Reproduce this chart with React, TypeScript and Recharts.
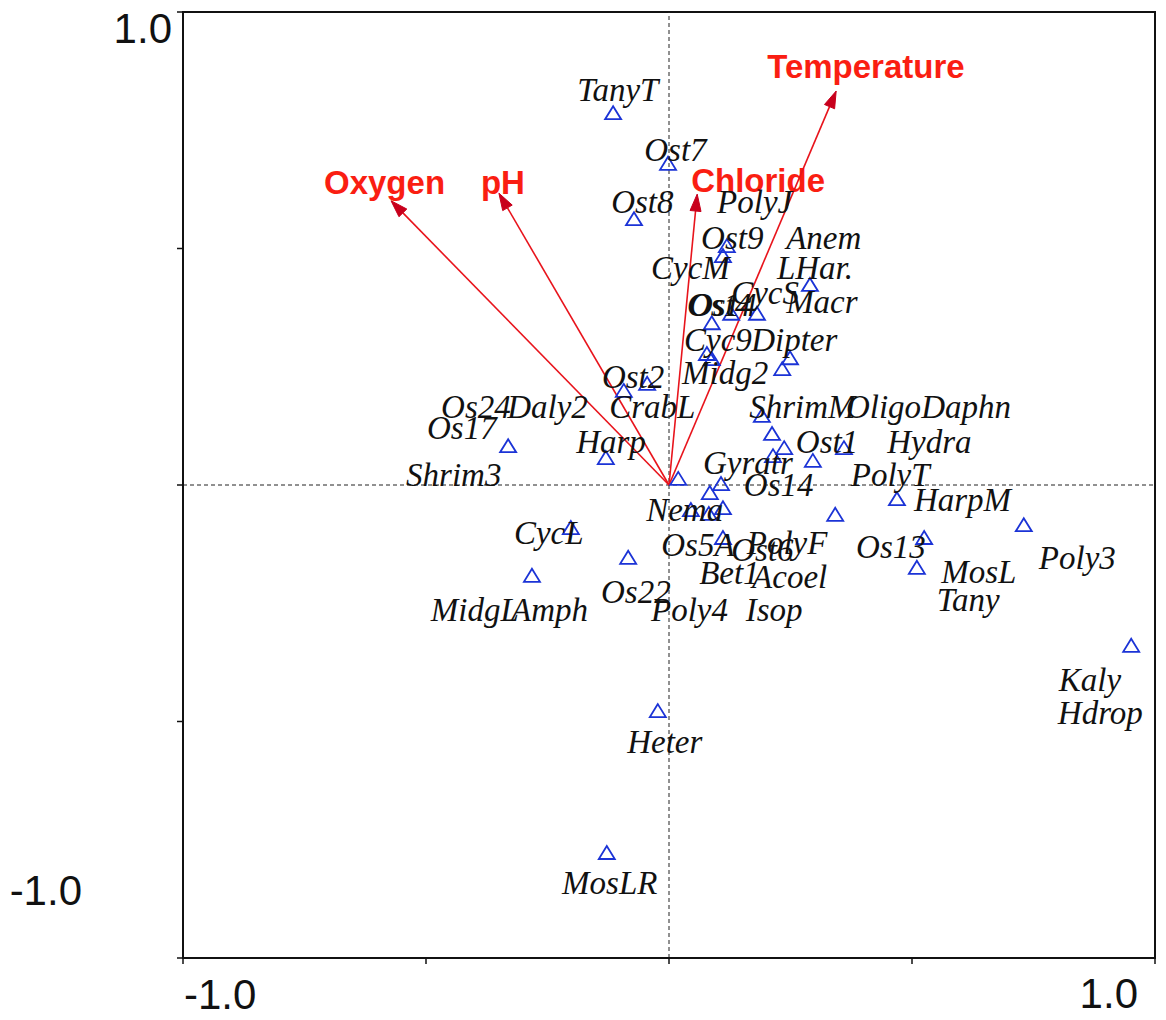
import { ReferenceArea, ReferenceLine, Scatter, ScatterChart, XAxis, YAxis } from 'recharts';

// environmental arrows (biplot scores)
const vectorNames = ['Oxygen', 'pH', 'Chloride', 'Temperature'];
const vectorX = [-0.572, -0.35, 0.058, 0.344];
const vectorY = [0.601, 0.617, 0.615, 0.833];

// species scores (triangles)
const scoreX = [
  -0.115, -0.002, -0.072, 0.119, 0.111, 0.29, 0.088, 0.128, 0.181, 0.078, 0.088, 0.249, 0.233, -0.093,
  -0.045, -0.331, -0.13, 0.019, 0.191, 0.212, 0.237, 0.214, 0.296, 0.36, 0.107, 0.084, 0.111, 0.082,
  0.045, 0.111, 0.342, -0.084, 0.469, 0.73, 0.525, 0.51, -0.202, -0.282, -0.023, -0.128, 0.951
];
const scoreY = [
  0.786, 0.679, 0.562, 0.505, 0.484, 0.423, 0.342, 0.362, 0.362, 0.277, 0.266, 0.268, 0.245, 0.199,
  0.214, 0.082, 0.057, 0.013, 0.146, 0.108, 0.078, 0.061, 0.051, 0.078, 0.002, -0.017, -0.049, -0.061,
  -0.053, -0.112, -0.063, -0.154, -0.03, -0.085, -0.112, -0.175, -0.091, -0.192, -0.478, -0.778, -0.34
];

// species labels, anchored where CANOCO put them
const labelNames = [
  'TanyT', 'Ost7', 'Ost8', 'PolyJ', 'Ost9', 'Anem', 'CycM', 'LHar.', 'CycS', 'Ost4', 'Os14', 'Macr',
  'Cyc9', 'Dipter', 'Midg2', 'Ost2', 'Os24', 'Daly2', 'CrabL', 'Os17', 'Harp', 'Shrim3', 'ShrimM',
  'Oligo', 'Daphn', 'Ost1', 'Hydra', 'Gyratr', 'Os14', 'PolyT', 'HarpM', 'Nema', 'Os5A', 'Ost6',
  'PolyF', 'Os13', 'Poly3', 'MosL', 'Tany', 'CycL', 'Bet1', 'Acoel', 'Os22', 'MidgL', 'Amph', 'Poly4',
  'Isop', 'Heter', 'MosLR', 'Kaly', 'Hdrop'
];
const labelX = [
  -0.189, -0.051, -0.119, 0.099, 0.066, 0.241, -0.037, 0.222, 0.128, 0.041, 0.037, 0.241,
  0.031, 0.169, 0.027, -0.138, -0.469, -0.333, -0.123, -0.498, -0.191, -0.541, 0.165,
  0.364, 0.519, 0.261, 0.449, 0.07, 0.154, 0.374, 0.504, -0.047, -0.016, 0.128,
  0.16, 0.385, 0.761, 0.56, 0.551, -0.319, 0.062, 0.171, -0.14, -0.49, -0.325, -0.037,
  0.158, -0.086, -0.22, 0.802, 0.8
];
const labelY = [
  0.812, 0.685, 0.575, 0.575, 0.499, 0.499, 0.436, 0.436, 0.383, 0.357, 0.357, 0.364,
  0.283, 0.283, 0.214, 0.205, 0.142, 0.142, 0.142, 0.097, 0.068, -0.002, 0.142,
  0.142, 0.142, 0.068, 0.068, 0.023, -0.023, -0.002, -0.055, -0.076, -0.15, -0.161,
  -0.146, -0.154, -0.178, -0.207, -0.266, -0.125, -0.209, -0.218, -0.249, -0.288, -0.288, -0.288,
  -0.288, -0.567, -0.865, -0.436, -0.505
];

const axisTicks = [-1, -0.5, 0, 0.5, 1];
const axisTickLabels: Record<string, string> = { '-1': '-1.0', '1': '1.0' };

const scores = scoreX.map((x, i) => ({ x, y: scoreY[i] }));
const labels = labelNames.map((name, i) => ({ name, x: labelX[i], y: labelY[i] }));

// where each arrow's caption sits relative to its tip (px)
const vectorLabelOffset: Record<string, [number, number]> = {
  Oxygen: [-67, -7],
  pH: [-18, 1],
  Chloride: [-6, -2],
  Temperature: [-69, -13]
};

const RED = '#e8141c';
const BLUE = '#1b33d6';

function Arrow(props: any) {
  const { x1, y1, x2, y2, name } = props;
  const a = Math.atan2(y2 - y1, x2 - x1);
  const len = 17;
  const half = 5.5;
  const bx = x2 - len * Math.cos(a);
  const by = y2 - len * Math.sin(a);
  const px = -Math.sin(a) * half;
  const py = Math.cos(a) * half;
  const [dx, dy] = vectorLabelOffset[name] || [0, 0];
  return (
    <g>
      <line x1={x1} y1={y1} x2={bx} y2={by} stroke={RED} strokeWidth={1.6} />
      <polygon
        points={`${x2},${y2} ${bx + px},${by + py} ${bx - px},${by - py}`}
        fill="#c8001c"
        stroke="#c8001c"
        strokeWidth={1}
      />
      <text
        x={x2 + dx}
        y={y2 + dy}
        fill="#fa1e12"
        fontFamily="'Liberation Sans', Arial, sans-serif"
        fontWeight="bold"
        fontSize={33}
      >
        {name}
      </text>
    </g>
  );
}

function Triangle({ cx, cy }: any) {
  return (
    <polygon
      points={`${cx},${cy - 7} ${cx - 8},${cy + 6} ${cx + 8},${cy + 6}`}
      fill="none"
      stroke={BLUE}
      strokeWidth={1.8}
    />
  );
}

function SpeciesLabel({ cx, cy, payload }: any) {
  return (
    <text x={cx} y={cy} fontFamily="'Liberation Serif', 'Times New Roman', serif" fontStyle="italic" fontSize={33} fill="#111">
      {payload.name}
    </text>
  );
}

function XTick({ x, y, payload }: any) {
  const label = axisTickLabels[String(payload.value)];
  if (!label) return null;
  const left = payload.value < 0;
  return (
    <text
      x={left ? x + 1 : x - 17}
      y={y + (left ? 45 : 44)}
      textAnchor={left ? 'start' : 'end'}
      fontFamily="'Liberation Sans', Arial, sans-serif"
      fontSize={42}
      fill="#111"
    >
      {label}
    </text>
  );
}

function YTick({ x, y, payload }: any) {
  const label = axisTickLabels[String(payload.value)];
  if (!label) return null;
  const top = payload.value > 0;
  return (
    <text
      x={top ? x - 5 : x - 95}
      y={y + (top ? 31 : -53)}
      textAnchor="end"
      fontFamily="'Liberation Sans', Arial, sans-serif"
      fontSize={42}
      fill="#111"
    >
      {label}
    </text>
  );
}

export default function App() {
  return (
    <div style={{ position: 'absolute', left: 0, top: 0, background: '#fff' }}>
      <ScatterChart width={1166} height={1020} margin={{ top: 12, right: 11, bottom: 22, left: 123 }}>
        <XAxis
          type="number"
          dataKey="x"
          domain={[-1, 1]}
          ticks={axisTicks}
          allowDataOverflow
          height={40}
          tickSize={6}
          tickMargin={0}
          axisLine={{ stroke: '#111', strokeWidth: 2 }}
          tickLine={{ stroke: '#111', strokeWidth: 1.5 }}
          tick={<XTick />}
        />
        <YAxis
          type="number"
          dataKey="y"
          domain={[-1, 1]}
          ticks={axisTicks}
          allowDataOverflow
          width={60}
          tickSize={6}
          tickMargin={0}
          axisLine={{ stroke: '#111', strokeWidth: 2 }}
          tickLine={{ stroke: '#111', strokeWidth: 1.5 }}
          tick={<YTick />}
        />
        <ReferenceArea x1={-1} x2={1} y1={-1} y2={1} fill="none" stroke="#111" strokeWidth={2} />
        <ReferenceLine x={0} stroke="#222" strokeWidth={1} strokeDasharray="4 3" />
        <ReferenceLine y={0} stroke="#222" strokeWidth={1} strokeDasharray="4 3" />
        {vectorNames.map((name, i) => (
          <ReferenceLine
            key={name}
            segment={[{ x: 0, y: 0 }, { x: vectorX[i], y: vectorY[i] }]}
            ifOverflow="visible"
            shape={(p: any) => <Arrow {...p} name={name} />}
          />
        ))}
        <Scatter data={scores} shape={<Triangle />} isAnimationActive={false} />
        <Scatter data={labels} shape={<SpeciesLabel />} isAnimationActive={false} />
      </ScatterChart>
    </div>
  );
}
